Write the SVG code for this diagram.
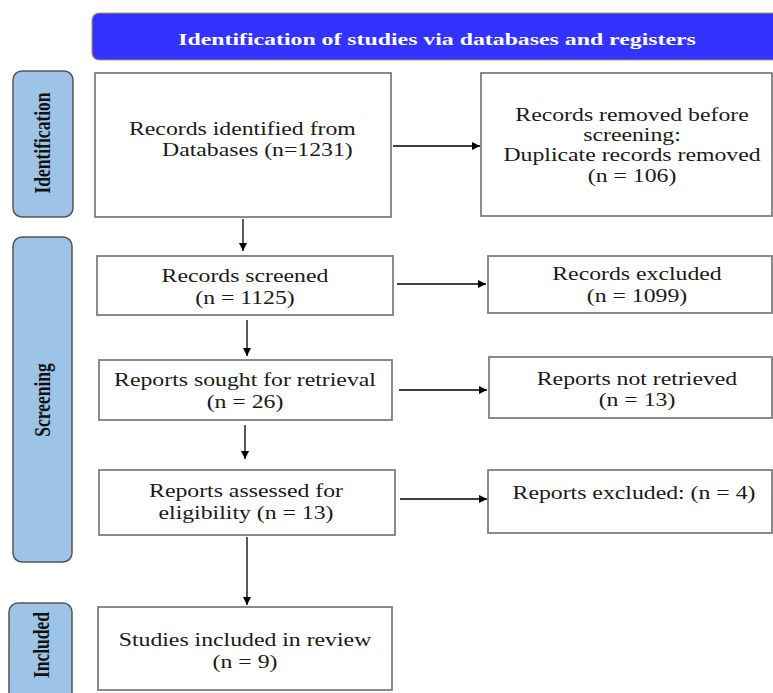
<svg xmlns="http://www.w3.org/2000/svg" width="773" height="693" viewBox="0 0 773 693">
<style>
.box{fill:#fff;stroke:#7f7f7f;stroke-width:1.8}
.side{fill:#9dc3e6;stroke:#555;stroke-width:1.5}
.t{font-family:"Liberation Serif","Times New Roman",serif;font-size:19px;fill:#1a1a1a;text-anchor:middle}
.ts{font-family:"Liberation Serif","Times New Roman",serif;font-size:19px;fill:#1a1a1a;text-anchor:start}
.st{font-family:"Liberation Serif","Times New Roman",serif;font-size:17.5px;font-weight:bold;fill:#111;text-anchor:middle}
.hd{font-family:"Liberation Serif","Times New Roman",serif;font-size:17px;font-weight:bold;fill:#fff;text-anchor:middle}
.c{stroke:#000;stroke-width:1.3;fill:none;marker-end:url(#ah)}
</style>
<defs>
<marker id="ah" viewBox="0 0 10 10" refX="10" refY="5" markerWidth="8" markerHeight="8" markerUnits="userSpaceOnUse" orient="auto">
<path d="M0,0 L10,5 L0,10 z" fill="#000"/>
</marker>
</defs>
<rect width="773" height="693" fill="#fff"/>

<g id="header">
<rect x="92" y="13" width="700" height="47" rx="7" fill="#3333ff" stroke="#b8955a" stroke-width="1.2"/>
<text class="hd" transform="translate(437,45) scale(1.4,1)">Identification of studies via databases and registers</text>
</g>

<g id="phase-identification">
<rect class="side" x="13" y="71" width="60" height="146" rx="9"/>
<text class="st" transform="translate(42,143) rotate(-90) scale(1,1.32)" y="6">Identification</text>
</g>
<g id="phase-screening">
<rect class="side" x="13" y="237" width="59" height="325" rx="9"/>
<text class="st" transform="translate(42,400) rotate(-90) scale(1,1.32)" y="6">Screening</text>
</g>
<g id="phase-included">
<rect class="side" x="9" y="603" width="63" height="100" rx="9"/>
<text class="st" transform="translate(41,645) rotate(-90) scale(1,1.32)" y="6">Included</text>
</g>

<g id="records-identified">
<rect class="box" x="95" y="73" width="296" height="144"/>
<text class="ts" transform="translate(129,135) scale(1.25,1)">Records identified from</text>
<text class="ts" transform="translate(162,156) scale(1.25,1)">Databases (n=1231)</text>
</g>
<g id="records-removed">
<rect class="box" x="481" y="73" width="291" height="143"/>
<text class="t" transform="translate(632,121) scale(1.25,1)">Records removed before</text>
<text class="t" transform="translate(632,141) scale(1.25,1)">screening:</text>
<text class="t" transform="translate(632,161) scale(1.25,1)">Duplicate records removed</text>
<text class="t" transform="translate(632,182) scale(1.25,1)">(n = 106)</text>
</g>
<g id="records-screened">
<rect class="box" x="97" y="256" width="296" height="59"/>
<text class="t" transform="translate(245,282) scale(1.25,1)">Records screened</text>
<text class="t" transform="translate(245,304) scale(1.25,1)">(n = 1125)</text>
</g>
<g id="records-excluded">
<rect class="box" x="488" y="256" width="284" height="57"/>
<text class="t" transform="translate(637,280) scale(1.25,1)">Records excluded</text>
<text class="t" transform="translate(637,302) scale(1.25,1)">(n = 1099)</text>
</g>
<g id="reports-sought">
<rect class="box" x="99" y="360" width="293" height="60"/>
<text class="t" transform="translate(245,386) scale(1.25,1)">Reports sought for retrieval</text>
<text class="t" transform="translate(245,408) scale(1.25,1)">(n = 26)</text>
</g>
<g id="reports-not-retrieved">
<rect class="box" x="489" y="357" width="283" height="61"/>
<text class="t" transform="translate(637,385) scale(1.25,1)">Reports not retrieved</text>
<text class="t" transform="translate(637,406) scale(1.25,1)">(n = 13)</text>
</g>
<g id="reports-assessed">
<rect class="box" x="99" y="470" width="296" height="65"/>
<text class="t" transform="translate(246,497) scale(1.25,1)">Reports assessed for</text>
<text class="t" transform="translate(246,519) scale(1.25,1)">eligibility (n = 13)</text>
</g>
<g id="reports-excluded">
<rect class="box" x="488" y="470" width="284" height="63"/>
<text class="t" transform="translate(634,499) scale(1.25,1)">Reports excluded: (n = 4)</text>
</g>
<g id="studies-included">
<rect class="box" x="98" y="607" width="294" height="83"/>
<text class="t" transform="translate(245,646) scale(1.25,1)">Studies included in review</text>
<text class="t" transform="translate(245,668) scale(1.25,1)">(n = 9)</text>
</g>

<g id="connectors">
<line class="c" x1="393" y1="146" x2="480" y2="146"/>
<line class="c" x1="243" y1="219" x2="243" y2="251"/>
<line class="c" x1="397" y1="284" x2="486" y2="284"/>
<line class="c" x1="247" y1="320" x2="247" y2="356"/>
<line class="c" x1="399" y1="390" x2="487" y2="390"/>
<line class="c" x1="245" y1="425" x2="245" y2="459"/>
<line class="c" x1="400" y1="499" x2="487" y2="499"/>
<line class="c" x1="247" y1="537" x2="247" y2="605"/>
</g>
</svg>
